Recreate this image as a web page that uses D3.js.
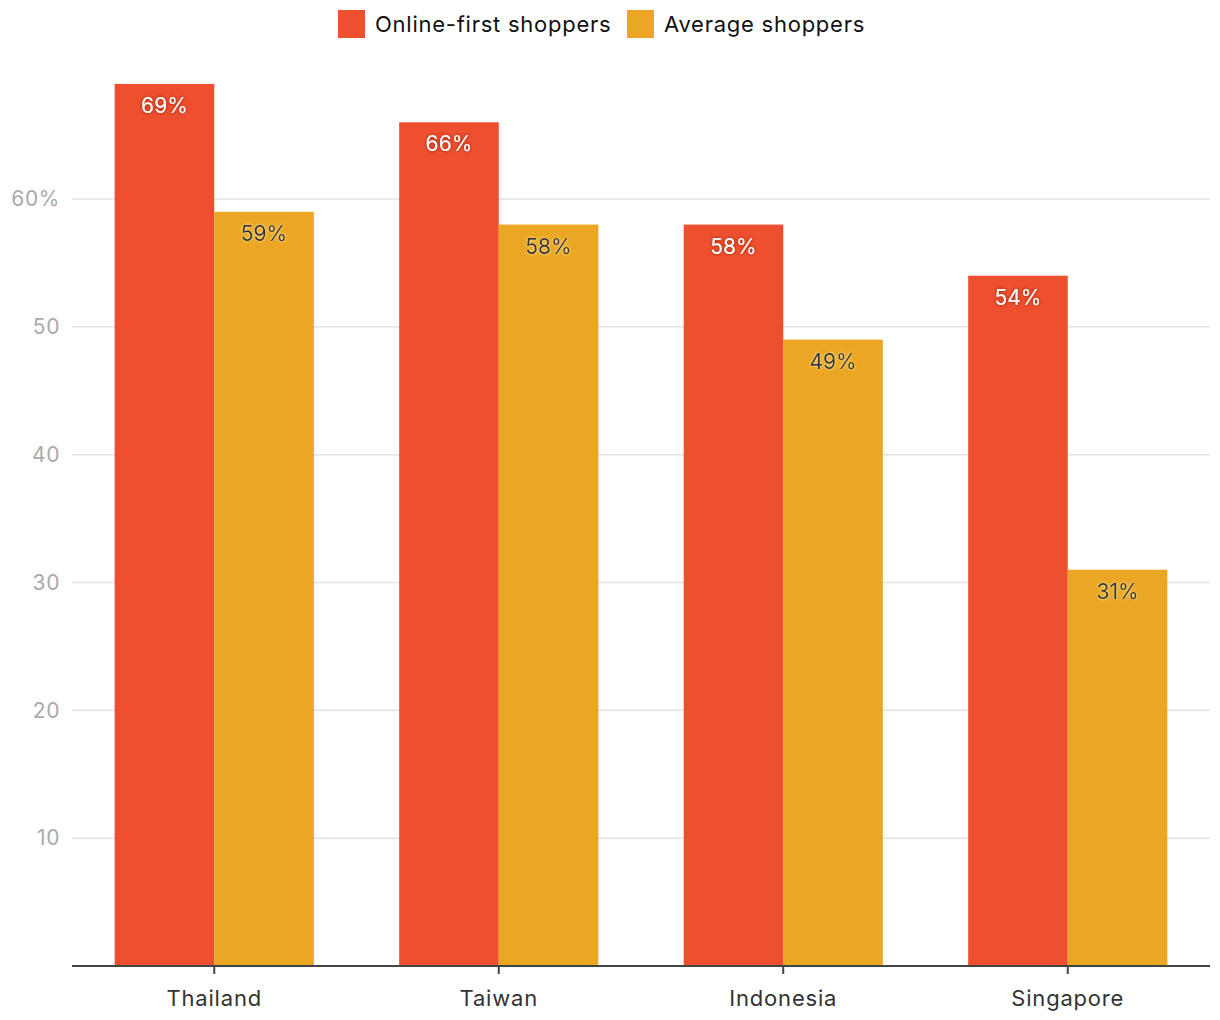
<!DOCTYPE html>
<html><head><meta charset="utf-8">
<script src="https://cdn.jsdelivr.net/npm/d3@7"></script>
<style>
body{margin:0;background:#fff;}
text{font-family:"Inter","Lato",sans-serif;}
</style></head>
<body><svg id="c" width="1220" height="1020"></svg>
<script>
const categories = ["Thailand","Taiwan","Indonesia","Singapore"];
const seriesNames = ["Online-first shoppers","Average shoppers"];
const onlineFirst = [69,66,58,54];
const average = [59,58,49,31];
const yTicks = [10,20,30,40,50,60];
const colors = ["#EE4F2E","#EBA723"];

(function(){
const svg = d3.select("#c");
const mLeft = 72, mRight = 1210, mBottom = 966;
const x = d3.scaleBand().domain(categories).range([mLeft,mRight]).paddingInner(0.3).paddingOuter(0.15);
const xs = d3.scaleBand().domain(seriesNames).range([0,x.bandwidth()]);
const y = d3.scaleLinear().domain([0,60]).range([mBottom, 199]);

const defs = svg.append("defs");
const f1 = defs.append("filter").attr("id","shDark").attr("x","-20%").attr("y","-40%").attr("width","140%").attr("height","180%");
f1.append("feDropShadow").attr("dx",0).attr("dy",0).attr("stdDeviation",1.5).attr("flood-color","#7a1a08").attr("flood-opacity",0.9);
const f2 = defs.append("filter").attr("id","shLight").attr("x","-20%").attr("y","-40%").attr("width","140%").attr("height","180%");
f2.append("feDropShadow").attr("dx",0).attr("dy",0).attr("stdDeviation",1.5).attr("flood-color","#fff3c0").attr("flood-opacity",0.9);

svg.append("g").selectAll("line").data(yTicks).join("line")
  .attr("x1",mLeft).attr("x2",mRight).attr("y1",d=>y(d)).attr("y2",d=>y(d))
  .attr("stroke","#e3e3e3").attr("stroke-width",1.5);

const yAxis = d3.axisLeft(y).tickValues(yTicks).tickSize(0).tickPadding(0)
  .tickFormat(d => d===60 ? d+"%" : d);
const yg = svg.append("g").attr("transform",`translate(60,0)`).call(yAxis);
yg.select(".domain").remove();
yg.selectAll("text").attr("fill","#aaaaaa").style("font-size","21px").style("letter-spacing","0.6px").style("font-family","Inter, Lato, sans-serif");

const data = categories.map((c,i)=>({cat:c, vals:[onlineFirst[i], average[i]]}));
const groups = svg.append("g").selectAll("g").data(data).join("g")
  .attr("transform",d=>`translate(${x(d.cat)},0)`);
groups.selectAll("rect").data(d=>d.vals.map((v,j)=>({v, s:seriesNames[j], j}))).join("rect")
  .attr("x",d=>xs(d.s)).attr("width",xs.bandwidth())
  .attr("y",d=>y(d.v)).attr("height",d=>y(0)-y(d.v))
  .attr("fill",d=>colors[d.j]);
groups.selectAll("text").data(d=>d.vals.map((v,j)=>({v, s:seriesNames[j], j}))).join("text")
  .attr("x",d=>xs(d.s)+xs.bandwidth()/2).attr("y",d=>y(d.v)+29)
  .attr("text-anchor","middle").style("font-size","21px")
  .attr("fill",d=>d.j===0?"#fff":"#333")
  .attr("filter",d=>d.j===0?"url(#shDark)":"url(#shLight)")
  .text(d=>d.v+"%");

const xAxis = d3.axisBottom(x).tickSize(8).tickPadding(16);
const xg = svg.append("g").attr("transform",`translate(0,${mBottom})`).call(xAxis);
xg.select(".domain").attr("stroke","#444").attr("stroke-width",2).attr("d",`M${mLeft},0H${mRight}`);
xg.selectAll(".tick line").attr("stroke","#444").attr("stroke-width",2);
xg.selectAll("text").attr("fill","#333").style("font-size","22px").style("letter-spacing","0.8px").style("font-family","Inter, Lato, sans-serif");

const legend = svg.append("g");
const lx = [338, 627];
seriesNames.forEach((s,i)=>{
  legend.append("rect").attr("x",lx[i]).attr("y",10).attr("width",27).attr("height",28).attr("fill",colors[i]);
  legend.append("text").attr("x",lx[i]+37).attr("y",32).attr("fill","#111")
    .style("font-size","22px").style("letter-spacing","0.75px").text(s);
});
})();
</script></body></html>
